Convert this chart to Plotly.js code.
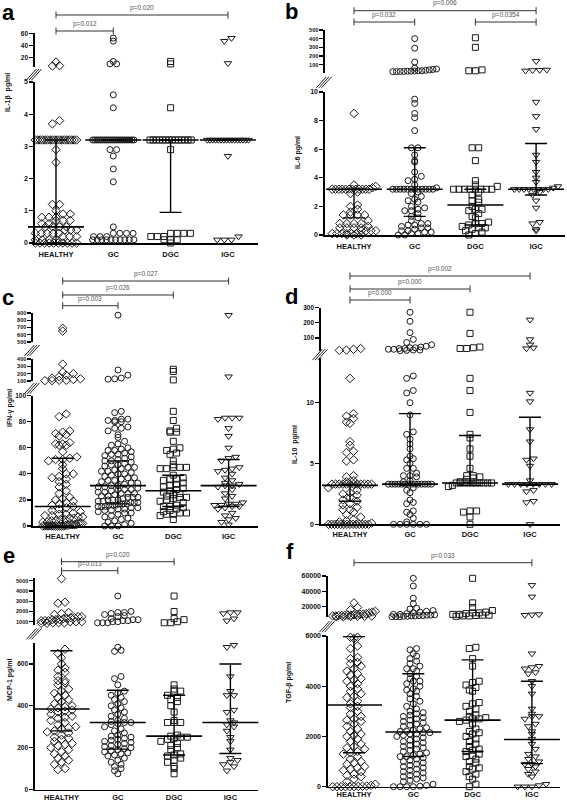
<!DOCTYPE html>
<html>
<head>
<meta charset="utf-8">
<script src="https://cdn.plot.ly/plotly-3.0.1.min.js"></script>
<style>html,body{margin:0;padding:0;background:#fff;}#chart{width:567px;height:804px;}</style>
</head>
<body>
<div id="chart"></div>
<script>
// ---------------- DATA ----------------
const categories = ['HEALTHY', 'GC', 'DGC', 'IGC'];

// a: IL-1β (pg/ml)
const il1b_healthy = [12, 6, 5.5, 3.8, 3.7, 3.2, 3.2, 3.2, 3.2, 3.2, 3.2, 3.2, 3.2, 3.2, 3.2, 3.2, 3.2, 3.2, 3.2, 3.2, 3.2, 3.2, 3.2, 2.9, 2.5, 1.2, 1.2, 1.0, 0.9, 0.9, 0.8, 0.8, 0.8, 0.7, 0.7, 0.7, 0.6, 0.6, 0.5, 0.5, 0.5, 0.5, 0.4, 0.4, 0.4, 0.3, 0.3, 0.3, 0.3, 0.3, 0.2, 0.2, 0.2, 0.1, 0.1, 0.1, 0.1, 0, 0, 0, 0, 0, 0, 0, 0, 0, 0];
const il1b_gc = [52, 47, 13, 9, 9, 4.6, 4.2, 3.2, 3.2, 3.2, 3.2, 3.2, 3.2, 3.2, 3.2, 3.2, 3.2, 3.2, 3.2, 3.2, 3.2, 3.2, 3.2, 3.2, 3.2, 3.2, 3.2, 3.2, 3.2, 2.9, 2.9, 2.7, 2.3, 1.9, 0.5, 0.3, 0.3, 0.3, 0.3, 0.2, 0.2, 0.2, 0.1, 0.1, 0.1, 0.1, 0.1, 0.1, 0.1, 0.1, 0.1, 0.1];
const il1b_dgc = [13, 9, 4.2, 3.2, 3.2, 3.2, 3.2, 3.2, 3.2, 3.2, 3.2, 3.2, 3.2, 3.2, 3.2, 3.2, 3.2, 2.9, 0.3, 0.3, 0.3, 0.3, 0.2, 0.2, 0.2, 0.1, 0.1, 0.1, 0];
const il1b_igc = [52, 47, 10, 3.2, 3.2, 3.2, 3.2, 3.2, 3.2, 3.2, 3.2, 3.2, 3.2, 3.2, 3.2, 3.2, 3.2, 3.2, 3.2, 2.7, 0.2, 0.1, 0.1, 0.1];
const il1b_median = [0.5, 3.2, 3.2, 3.2];
const il1b_q1 = [0.0, 3.2, 0.95, 3.2];
const il1b_q3 = [3.2, 3.2, 3.2, 3.2];
const il1b_pairs = [[0, 3], [0, 1]];
const il1b_p = ['p=0.020', 'p=0.012'];

// b: IL-6 (pg/ml)
const il6_healthy = [8.5, 3.5, 3.4, 3.3, 3.2, 3.2, 3.2, 3.2, 3.2, 3.2, 3.2, 3.2, 3.2, 3.2, 3.2, 3.2, 3.0, 2.9, 2.1, 2.0, 1.8, 1.6, 1.4, 1.4, 1.4, 1.4, 1.0, 0.8, 0.8, 0.8, 0.8, 0.6, 0.5, 0.5, 0.5, 0.5, 0.3, 0.3, 0.3, 0.3, 0.1, 0.1, 0.1, 0.1, 0.1, 0.1, 0, 0, 0];
const il6_gc = [400, 290, 130, 60, 50, 45, 40, 35, 30, 30, 28, 25, 25, 22, 22, 20, 20, 9.5, 9.2, 8.5, 8.2, 7.3, 6.1, 6.1, 5.6, 5.2, 5.1, 4.4, 4.1, 3.9, 3.8, 3.5, 3.3, 3.2, 3.2, 3.2, 3.2, 3.2, 3.2, 3.2, 3.2, 3.2, 3.2, 3.2, 3.2, 3.0, 2.9, 2.7, 2.5, 2.4, 2.3, 2.0, 1.9, 1.8, 1.7, 1.7, 1.5, 1.3, 1.2, 1.0, 0.8, 0.8, 0.7, 0.7, 0.6, 0.5, 0.5, 0.4, 0.3, 0.3, 0.2, 0.2, 0.1, 0.1, 0, 0];
const il6_dgc = [410, 300, 40, 30, 30, 6.1, 6.1, 5.2, 3.8, 3.5, 3.4, 3.2, 3.2, 3.2, 3.2, 3.2, 3.2, 3.2, 3.2, 3.0, 2.8, 2.5, 2.4, 2.3, 2.0, 1.8, 1.8, 1.7, 1.5, 1.3, 1.2, 0.9, 0.8, 0.8, 0.7, 0.6, 0.5, 0.5, 0.4, 0.3, 0.2, 0.1, 0];
const il6_igc = [140, 40, 38, 35, 30, 9.3, 8.3, 7.4, 5.6, 5.1, 4.4, 4.0, 3.7, 3.4, 3.3, 3.2, 3.2, 3.2, 3.2, 3.2, 3.2, 3.2, 3.2, 3.0, 2.8, 2.4, 1.9, 0.9, 0.8, 0.4, 0.3];
const il6_median = [3.2, 3.2, 2.1, 3.2];
const il6_q1 = [1.2, 1.3, 0.7, 2.8];
const il6_q3 = [3.2, 6.1, 3.2, 6.4];
const il6_pairs = [[0, 3], [0, 1], [2, 3]];
const il6_p = ['p=0.006', 'p=0.032', 'p=0.0354'];

// c: IFN-γ (pg/ml)
const ifng_healthy = [690, 650, 330, 220, 200, 180, 160, 140, 130, 120, 110, 110, 105, 105, 86, 84, 73, 72, 71, 70, 69, 64, 63, 63, 62, 62, 57, 53, 52, 51, 51, 50, 47, 44, 40, 40, 38, 37, 36, 34, 32, 30, 27, 25, 22, 21, 20, 19, 18, 17, 16, 15, 14, 13, 12, 11, 10, 9, 9, 8, 8, 7, 7, 6, 6, 5, 5, 4, 4, 3, 3, 2, 2, 2, 1, 1, 1, 1, 0.5, 0.5, 0, 0, 0, 0, 0, 0, 0, 0, 0, 0, 0];
const ifng_gc = [870, 250, 180, 140, 130, 125, 88, 87, 82, 82, 81, 81, 80, 80, 76, 75, 75, 73, 70, 68, 65, 63, 62, 60, 59, 58, 58, 57, 56, 55, 55, 54, 53, 52, 51, 50, 50, 49, 48, 47, 47, 46, 45, 45, 44, 43, 42, 42, 41, 40, 40, 39, 38, 37, 37, 36, 35, 35, 34, 33, 33, 32, 31, 31, 30, 30, 29, 28, 28, 28, 27, 26, 26, 25, 25, 25, 24, 23, 23, 22, 22, 22, 21, 20, 20, 20, 19, 19, 18, 18, 18, 17, 17, 17, 16, 16, 16, 15, 15, 15, 14, 14, 13, 13, 12, 12, 11, 10, 10, 9, 8, 7, 6, 5, 4, 3, 2, 1, 0, 0, 0];
const ifng_dgc = [260, 230, 115, 88, 81, 75, 73, 72, 72, 65, 60, 59, 58, 56, 55, 50, 47, 45, 45, 45, 44, 44, 39, 37, 36, 36, 35, 33, 32, 31, 30, 29, 28, 27, 26, 25, 24, 23, 22, 22, 21, 20, 19, 18, 16, 15, 15, 14, 13, 12, 11, 10, 10, 9, 9, 8, 5];
const ifng_igc = [870, 160, 83, 83, 83, 82, 75, 69, 60, 53, 52, 50, 45, 44, 43, 42, 40, 37, 35, 33, 32, 31, 31, 30, 28, 25, 23, 21, 18, 17, 17, 16, 16, 15, 15, 14, 13, 10, 8, 6, 5, 3, 1];
const ifng_median = [15, 31, 27, 31];
const ifng_q1 = [0, 17, 15, 15];
const ifng_q3 = [52, 50, 39, 51];
const ifng_pairs = [[0, 3], [0, 2], [0, 1]];
const ifng_p = ['p=0.027', 'p=0.026', 'p=0.003'];

// d: IL-10 (pg/ml)
const il10_healthy = [25, 18, 20, 30, 12.0, 9.1, 8.9, 8.7, 8.4, 8.3, 6.8, 6.5, 6.0, 5.9, 5.3, 5.2, 4.0, 3.9, 3.6, 3.5, 3.3, 3.3, 3.3, 3.3, 3.3, 3.3, 3.3, 3.3, 3.3, 3.3, 3.3, 3.3, 3.0, 2.8, 2.6, 2.5, 2.4, 2.2, 2.0, 1.9, 1.7, 1.6, 1.4, 1.2, 1.2, 1.0, 0.8, 0.6, 0.4, 0.3, 0.2, 0.1, 0, 0, 0, 0, 0, 0, 0, 0, 0, 0, 0, 0, 0, 0];
const il10_gc = [270, 210, 135, 90, 70, 55, 45, 40, 35, 35, 30, 30, 25, 25, 20, 20, 18, 16, 12.2, 12.0, 11.0, 10.8, 10.0, 9.0, 7.6, 7.4, 7.0, 6.6, 6.2, 5.6, 5.4, 5.3, 5.0, 4.6, 4.6, 4.2, 4.0, 4.0, 3.9, 3.6, 3.5, 3.3, 3.3, 3.3, 3.3, 3.3, 3.3, 3.3, 3.3, 3.3, 3.3, 3.3, 3.3, 3.3, 3.3, 3.0, 2.8, 2.6, 2.0, 1.8, 1.7, 1.1, 1.0, 0.8, 0.5, 0.2, 0, 0, 0, 0, 0, 0];
const il10_dgc = [270, 130, 40, 35, 30, 30, 12.0, 11.0, 9.2, 7.4, 7.1, 6.2, 5.6, 4.6, 4.0, 4.0, 3.9, 3.8, 3.7, 3.5, 3.4, 3.4, 3.4, 3.4, 3.4, 3.4, 3.4, 3.4, 3.4, 3.4, 3.2, 3.1, 1.1, 1.1, 1.0, 0.6, 0];
const il10_igc = [220, 90, 55, 35, 30, 10.8, 10.1, 7.8, 6.8, 5.4, 5.3, 4.8, 3.6, 3.3, 3.3, 3.3, 3.3, 3.3, 3.3, 3.3, 3.3, 2.8, 2.7, 1.9, 1.8, 0];
const il10_median = [3.2, 3.3, 3.4, 3.3];
const il10_q1 = [1.9, 3.2, 3.2, 3.2];
const il10_q3 = [3.3, 9.1, 7.3, 8.8];
const il10_pairs = [[0, 3], [0, 2], [0, 1]];
const il10_p = ['p=0.002', 'p=0.000', 'p=0.000'];

// e: MCP-1 (pg/ml)
const mcp1_healthy = [5200, 2900, 2800, 1900, 1800, 1700, 1500, 1500, 1400, 1400, 1300, 1300, 1200, 1200, 1200, 1100, 1100, 1100, 1000, 1000, 1000, 900, 900, 900, 850, 850, 670, 650, 630, 600, 580, 570, 560, 540, 520, 520, 510, 500, 480, 470, 460, 450, 440, 430, 420, 410, 400, 395, 390, 385, 380, 375, 370, 360, 350, 345, 340, 330, 320, 310, 300, 295, 290, 280, 275, 270, 260, 250, 245, 240, 230, 220, 215, 210, 200, 190, 180, 170, 160, 150, 140, 130, 120, 100, 95];
const mcp1_gc = [3500, 2000, 1900, 1900, 1800, 1700, 1600, 1500, 1300, 1200, 1200, 1100, 1100, 1000, 1000, 900, 900, 900, 680, 665, 660, 540, 530, 500, 470, 460, 450, 440, 430, 420, 410, 400, 390, 380, 370, 360, 350, 340, 330, 325, 320, 320, 315, 310, 300, 290, 280, 270, 260, 255, 250, 245, 240, 235, 230, 225, 220, 215, 210, 205, 200, 195, 190, 185, 180, 175, 170, 165, 160, 150, 140, 130, 120, 110, 100, 90, 75];
const mcp1_dgc = [3500, 2000, 1300, 1200, 1000, 900, 900, 500, 480, 470, 470, 450, 440, 430, 420, 400, 370, 330, 320, 320, 320, 260, 255, 250, 250, 245, 240, 230, 220, 210, 200, 190, 170, 165, 160, 150, 140, 130, 110, 100, 75];
const mcp1_igc = [1900, 1900, 1800, 1300, 1100, 690, 680, 540, 470, 450, 450, 380, 370, 330, 320, 310, 300, 280, 250, 230, 190, 150, 140, 130, 120, 110, 90];
const mcp1_median = [385, 320, 255, 320];
const mcp1_q1 = [280, 193, 165, 172];
const mcp1_q3 = [663, 474, 450, 600];
const mcp1_pairs = [[0, 2], [0, 1]];
const mcp1_p = ['p=0.020', 'p=0.013'];

// f: TGF-β (pg/ml)
const tgfb_healthy = [25000, 19000, 16000, 14000, 13000, 12000, 11000, 10500, 10000, 10000, 9500, 9000, 9000, 8800, 8500, 8500, 8000, 8000, 7800, 7500, 7500, 7200, 7000, 7000, 5950, 5900, 5950, 5600, 5500, 5150, 5100, 4950, 4900, 4800, 4700, 4600, 4500, 4450, 4300, 4250, 4200, 4100, 4000, 3900, 3800, 3700, 3600, 3550, 3400, 3300, 3200, 3150, 3000, 2900, 2800, 2700, 2650, 2600, 2500, 2400, 2300, 2200, 2100, 2050, 2000, 1900, 1800, 1700, 1600, 1550, 1500, 1400, 1350, 1300, 1200, 1100, 1000, 950, 900, 800, 750, 700, 650, 600, 500, 450, 400, 300, 200, 100, 50, 30, 20, 10, 0, 0, 0, 0, 0, 0];
const tgfb_gc = [57000, 47000, 31000, 24000, 18000, 17000, 15000, 14000, 13000, 12000, 11000, 10000, 10000, 9500, 9000, 9000, 8500, 8500, 8000, 8000, 7500, 7500, 7000, 7000, 7000, 5500, 5450, 5300, 5200, 5100, 5000, 4900, 4800, 4700, 4700, 4600, 4500, 4400, 4300, 4200, 4200, 4100, 4000, 3900, 3850, 3800, 3700, 3600, 3500, 3400, 3300, 3200, 3100, 3000, 2950, 2900, 2850, 2800, 2750, 2700, 2650, 2600, 2550, 2500, 2450, 2400, 2350, 2300, 2250, 2200, 2200, 2150, 2150, 2100, 2100, 2050, 2000, 1950, 1900, 1850, 1800, 1750, 1700, 1650, 1600, 1550, 1500, 1450, 1400, 1350, 1300, 1250, 1200, 1200, 1150, 1100, 1050, 1000, 950, 900, 850, 800, 750, 700, 650, 600, 550, 500, 450, 400, 350, 300, 250, 200, 100, 50, 20, 0, 0, 0, 0];
const tgfb_dgc = [57000, 25000, 19000, 15000, 13000, 12000, 12000, 11000, 10000, 10000, 9000, 9000, 8500, 8000, 8000, 7500, 5550, 5500, 5100, 4800, 4200, 4150, 4050, 3950, 3850, 3800, 3350, 3300, 3200, 3100, 3000, 2850, 2800, 2750, 2700, 2700, 2650, 2600, 2500, 2300, 2200, 2150, 2100, 2000, 1900, 1800, 1700, 1600, 1500, 1450, 1400, 1300, 1250, 1200, 1100, 1000, 950, 800, 750, 700, 600, 500, 400, 300, 100, 0];
const tgfb_igc = [48000, 33000, 10000, 9500, 9000, 5300, 4800, 4750, 4700, 4550, 4500, 4200, 4000, 3700, 3100, 2900, 2800, 2800, 2700, 2500, 2400, 2200, 2100, 1900, 1700, 1500, 1300, 1200, 1100, 1000, 900, 900, 800, 700, 600, 500, 400, 100, 50, 0, 0, 0];
const tgfb_median = [3250, 2180, 2650, 1880];
const tgfb_q1 = [1350, 1200, 1400, 920];
const tgfb_q3 = [5980, 4500, 5050, 4200];
const tgfb_pairs = [[0, 3]];
const tgfb_p = ['p=0.033'];

const titles = ['IL-1β  pg/ml', 'IL-6 pg/ml', 'IFN-γ pg/ml', 'IL-10  pg/ml', 'MCP-1 pg/ml', 'TGF-β pg/ml'];
const panelLetters = ['a', 'b', 'c', 'd', 'e', 'f'];

// ---------------- LAYOUT CONFIG (positions in px) ----------------
const W = 567, H = 804;
const FONT = 'Liberation Sans, Arial, sans-serif';
const SYMBOLS = ['diamond-open', 'circle-open', 'square-open', 'triangle-down-open'];
const MSIZE = [6.5, 6, 6, 6.5];

const panels = [
  {groups: [il1b_healthy, il1b_gc, il1b_dgc, il1b_igc], med: il1b_median, q1: il1b_q1, q3: il1b_q3, pairs: il1b_pairs, p: il1b_p,
   xpx: [35, 258], c0: 56, sp: 57.3, levels: [15, 31], letter: [8, 13], title: [8, 93], xstand: 3,
   segs: [{range: [0, 5], px: [243, 82], tv: [0, 1, 2, 3, 4, 5], max: 5, fs: 7},
          {range: [3.8, 61], px: [67, 32.7], tv: [20, 40, 60], fs: 6.5}]},
  {groups: [il6_healthy, il6_gc, il6_dgc, il6_igc], med: il6_median, q1: il6_q1, q3: il6_q3, pairs: il6_pairs, p: il6_p,
   xpx: [325, 565], c0: 354, sp: 60.7, levels: [10.7, 22, 22], letter: [291, 11], title: [298, 153], xstand: 3,
   segs: [{range: [0, 10], px: [235, 92], tv: [0, 2, 4, 6, 8, 10], max: 10, fs: 7},
          {range: [10, 505], px: [72.5, 29.5], tv: [100, 200, 300, 400, 500], fs: 5.5}]},
  {groups: [ifng_healthy, ifng_gc, ifng_dgc, ifng_igc], med: ifng_median, q1: ifng_q1, q3: ifng_q3, pairs: ifng_pairs, p: ifng_p,
   xpx: [33, 258], c0: 62.7, sp: 55.3, levels: [281, 295, 305.7], letter: [8, 297], title: [10, 408], xstand: 2,
   segs: [{range: [0, 100], px: [526, 395.7], tv: [0, 20, 40, 60, 80, 100], max: 100, fs: 6.5},
          {range: [100, 400], px: [381, 359], tv: [100, 200, 300, 400], max: 400, fs: 5.5},
          {range: [500, 900], px: [342, 313], tv: [500, 600, 700, 800, 900], fs: 5.5}]},
  {groups: [il10_healthy, il10_gc, il10_dgc, il10_igc], med: il10_median, q1: il10_q1, q3: il10_q3, pairs: il10_pairs, p: il10_p,
   xpx: [321, 560], c0: 350, sp: 60, levels: [276, 289, 300], letter: [291, 296], title: [295, 445], xstand: 2,
   segs: [{range: [0, 13.65], px: [524.3, 358.3], tv: [0, 5, 10], max: 13.65, fs: 7},
          {range: [13.65, 300], px: [351, 307.7], tv: [100, 200, 300], fs: 6.5}]},
  {groups: [mcp1_healthy, mcp1_gc, mcp1_dgc, mcp1_igc], med: mcp1_median, q1: mcp1_q1, q3: mcp1_q3, pairs: mcp1_pairs, p: mcp1_p,
   xpx: [35, 258], c0: 61.5, sp: 56.3, levels: [561.7, 570.7], letter: [9, 555], title: [10, 680], xstand: 0,
   segs: [{range: [0, 700], px: [789.5, 643], tv: [0, 200, 400, 600], max: 700, fs: 6.5},
          {range: [700, 5250], px: [624.8, 578.1], tv: [1000, 2000, 3000, 4000, 5000], fs: 5.5}]},
  {groups: [tgfb_healthy, tgfb_gc, tgfb_dgc, tgfb_igc], med: tgfb_median, q1: tgfb_q1, q3: tgfb_q3, pairs: tgfb_pairs, p: tgfb_p,
   xpx: [328, 560], c0: 354, sp: 59.3, levels: [562.7], letter: [290, 551], title: [289, 683], xstand: 0,
   segs: [{range: [0, 6000], px: [786.7, 636], tv: [0, 2000, 4000, 6000], max: 6000, fs: 7},
          {range: [6200, 60000], px: [617.3, 576], tv: [20000, 40000, 60000], fs: 7}]}
];

// ---------------- BUILD ----------------
const px2x = p => p / W;
const px2y = p => 1 - p / H;
const data = [];
const layout = {
  width: W, height: H, margin: {l: 0, r: 0, t: 0, b: 0},
  paper_bgcolor: '#ffffff', plot_bgcolor: 'rgba(0,0,0,0)', showlegend: false,
  font: {family: FONT, color: '#000'},
  annotations: [], shapes: [],
  // pixel overlay axis used for the significance brackets
  yaxis: {domain: [0, 1], range: [H, 0], visible: false, anchor: 'free', position: 0, fixedrange: true}
};
let yId = 1;
const key = (t, n) => t + 'axis' + (n === 1 ? '' : n);
const ref = (t, n) => t + (n === 1 ? '' : n);

// row-binned dot plot offsets (in category units)
function swarm(vals, seg, sp, msize) {
  const k = (seg.px[0] - seg.px[1]) / (seg.range[1] - seg.range[0]);
  const rowH = msize * 0.85, maxHalf = 0.36 * sp;
  const rows = {};
  vals.forEach((v, i) => {
    const p = seg.px[0] - (v - seg.range[0]) * k;
    const b = Math.round(p / rowH);
    (rows[b] = rows[b] || []).push(i);
  });
  const off = new Array(vals.length).fill(0);
  Object.keys(rows).forEach(b => {
    const idx = rows[b].slice().sort((i, j) => vals[i] - vals[j]);
    const n = idx.length;
    const s = n > 1 ? Math.min(msize + 0.6, 2 * maxHalf / (n - 1)) : 0;
    idx.forEach((ii, j) => { off[ii] = ((j - (n - 1) / 2) * s) / sp; });
  });
  return off;
}

panels.forEach((P, pi) => {
  const xn = pi + 1;
  const xr = ref('x', xn);
  const segIds = P.segs.map(() => ++yId);
  const tickFontBase = {family: FONT, size: 7, color: '#111', weight: 700};

  layout[key('x', xn)] = {
    domain: [px2x(P.xpx[0]), px2x(P.xpx[1])],
    range: [(P.xpx[0] - P.c0) / P.sp, (P.xpx[1] - P.c0) / P.sp],
    anchor: ref('y', segIds[0]),
    tickmode: 'array', tickvals: [0, 1, 2, 3], ticktext: categories,
    showline: true, linecolor: '#000', linewidth: 1.6, ticks: '', ticklabelstandoff: P.xstand,
    showgrid: false, zeroline: false, fixedrange: true,
    tickfont: {family: FONT, size: 7.5, color: '#111', weight: 700}
  };

  P.segs.forEach((S, si) => {
    const yn = segIds[si];
    layout[key('y', yn)] = {
      domain: [px2y(S.px[0]), px2y(S.px[1])],
      range: S.range, anchor: xr,
      tickmode: 'array', tickvals: S.tv, ticktext: S.tv.map(String),
      showline: true, linecolor: '#000', linewidth: 1.6,
      ticks: 'outside', ticklen: 4, tickwidth: 1.2, tickcolor: '#000',
      showgrid: false, zeroline: false, fixedrange: true,
      tickfont: Object.assign({}, tickFontBase, {size: S.fs})
    };
  });

  // points
  P.groups.forEach((vals, g) => {
    P.segs.forEach((S, si) => {
      const lo = si === 0 ? -Infinity : P.segs[si - 1].max;
      const hi = S.max === undefined ? Infinity : S.max;
      const v = vals.filter(x => x > lo && x <= hi);
      if (!v.length) return;
      const off = swarm(v, S, P.sp, MSIZE[g]);
      data.push({
        type: 'scatter', mode: 'markers', xaxis: xr, yaxis: ref('y', segIds[si]),
        x: v.map((_, i) => g + off[i]), y: v, cliponaxis: false, hoverinfo: 'skip',
        marker: {symbol: SYMBOLS[g], size: MSIZE[g], color: '#1a1a1a', line: {width: 1, color: '#1a1a1a'}}
      });
    });
  });

  // median with interquartile range
  data.push({
    type: 'scatter', mode: 'markers', xaxis: xr, yaxis: ref('y', segIds[0]),
    x: [0, 1, 2, 3], y: P.med, cliponaxis: false, hoverinfo: 'skip',
    marker: {symbol: 'line-ew', size: 40, color: '#000', line: {width: 1.6, color: '#000'}},
    error_y: {type: 'data', symmetric: false,
      array: P.q3.map((q, i) => q - P.med[i]), arrayminus: P.med.map((m, i) => m - P.q1[i]),
      width: 11, thickness: 1.4, color: '#000'}
  });

  // significance brackets
  P.pairs.forEach((pr, k) => {
    const lvl = P.levels[k];
    data.push({
      type: 'scatter', mode: 'lines+markers', xaxis: xr, yaxis: 'y',
      x: pr, y: [lvl, lvl], cliponaxis: false, hoverinfo: 'skip',
      line: {color: '#333', width: 1},
      marker: {symbol: 'line-ns', size: 5, color: '#333', line: {width: 1, color: '#333'}}
    });
    layout.annotations.push({
      xref: xr, yref: 'y', x: (pr[0] + pr[1]) / 2, y: lvl - 1.2, yanchor: 'bottom', xanchor: 'center',
      text: P.p[k], showarrow: false, font: {family: FONT, size: 6.5, color: '#555'}
    });
  });

  // axis break marks
  for (let si = 0; si < P.segs.length - 1; si++) {
    const mid = (P.segs[si].px[1] + P.segs[si + 1].px[0]) / 2;
    const cx = P.xpx[0] - 1;
    [-2.6, 0, 2.6].forEach(o => {
      layout.shapes.push({type: 'line', xref: 'paper', yref: 'paper',
        x0: px2x(cx + o - 5), y0: px2y(mid + 5.5), x1: px2x(cx + o + 5), y1: px2y(mid - 5.5),
        line: {color: '#222', width: 1}});
    });
  }

  // panel letter
  layout.annotations.push({xref: 'paper', yref: 'paper', x: px2x(P.letter[0]), y: px2y(P.letter[1]),
    xanchor: 'center', yanchor: 'middle', text: '<b>' + panelLetters[pi] + '</b>', showarrow: false,
    font: {family: FONT, size: 22, color: '#000'}});
  // y-axis title
  layout.annotations.push({xref: 'paper', yref: 'paper', x: px2x(P.title[0]), y: px2y(P.title[1]),
    xanchor: 'center', yanchor: 'middle', text: '<b>' + titles[pi] + '</b>', textangle: -90, showarrow: false,
    font: {family: FONT, size: 7, color: '#111'}});
});

Plotly.newPlot('chart', data, layout, {staticPlot: true, displayModeBar: false});
</script>
</body>
</html>
